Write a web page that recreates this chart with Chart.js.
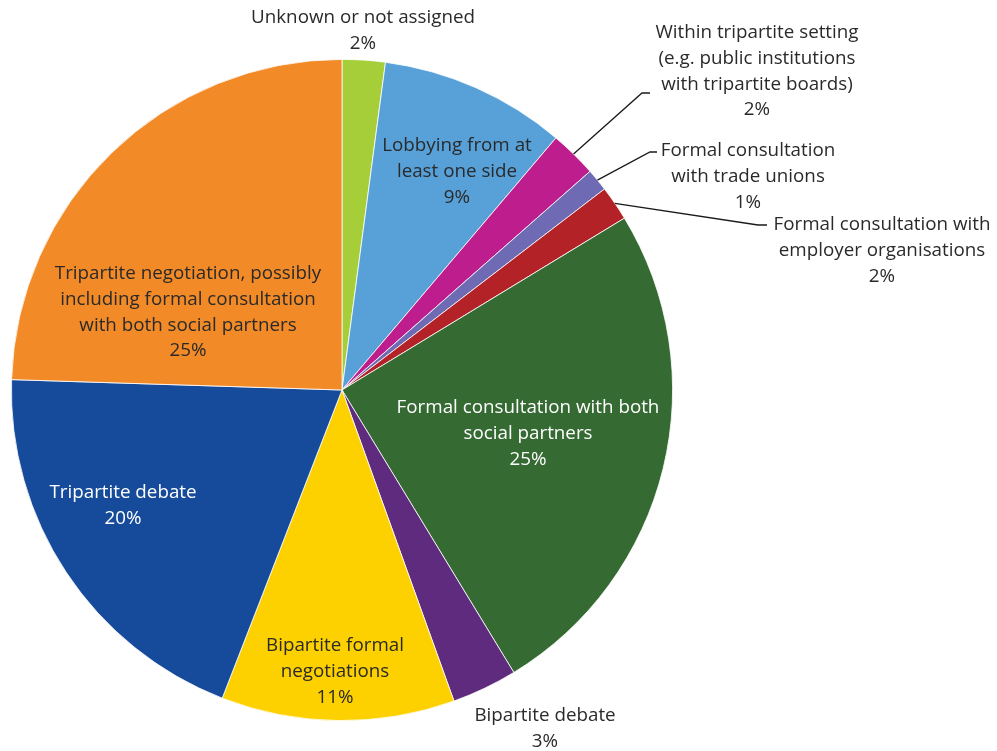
<!DOCTYPE html>
<html>
<head>
<meta charset="utf-8">
<script src="https://cdn.jsdelivr.net/npm/chart.js@4/dist/chart.umd.min.js"></script>
<style>
  html, body { margin: 0; padding: 0; background: #ffffff; }
  #wrap { width: 997px; height: 751px; }
</style>
</head>
<body>
<div id="wrap"><canvas id="pie" width="997" height="751"></canvas></div>
<script>
// Share of cases by type of social partner involvement (%)
const categories = [
  "Unknown or not assigned",
  "Lobbying from at least one side",
  "Within tripartite setting (e.g. public institutions with tripartite boards)",
  "Formal consultation with trade unions",
  "Formal consultation with employer organisations",
  "Formal consultation with both social partners",
  "Bipartite debate",
  "Bipartite formal negotiations",
  "Tripartite debate",
  "Tripartite negotiation, possibly including formal consultation with both social partners"
];
const shares = [2.1, 9.1, 2.3, 1.1, 1.7, 25.0, 3.2, 11.4, 19.6, 24.5];

// Line breaks used when the category names are printed on the chart
const labelLines = [
  ["Unknown or not assigned"],
  ["Lobbying from at", "least one side"],
  ["Within tripartite setting", "(e.g. public institutions", "with tripartite boards)"],
  ["Formal consultation", "with trade unions"],
  ["Formal consultation with", "employer organisations"],
  ["Formal consultation with both", "social partners"],
  ["Bipartite debate"],
  ["Bipartite formal", "negotiations"],
  ["Tripartite debate"],
  ["Tripartite negotiation, possibly", "including formal consultation", "with both social partners"]
];

const colors = ["#A6CE39", "#57A0D8", "#BE1E8D", "#6E6BB4", "#B22226",
                "#356A32", "#5E2B7E", "#FDD000", "#164B9C", "#F28A27"];

// Text block placement relative to the pie centre (first line's middle),
// optional leader line elbow for labels outside the pie, and text colour.
const placement = [
  { dx: 21,  dy: -372 },
  { dx: 115, dy: -244 },
  { dx: 415, dy: -357, elbow: { x: 300, y: -297, end: 308 } },
  { dx: 406, dy: -239, elbow: { x: 308, y: -238, end: 315 } },
  { dx: 540, dy: -165, elbow: { x: 416, y: -165, end: 425 } },
  { dx: 186, dy: 18, light: true },
  { dx: 203, dy: 326 },
  { dx: -7,  dy: 256 },
  { dx: -219, dy: 103, light: true },
  { dx: -154, dy: -116 }
];

const LINE_H = 25.6;
const FONT = '18.8px "Open Sans", "Noto Sans", sans-serif';
const TEXT_COLOR = "#2a2a2a";

const labelPlugin = {
  id: "sliceLabels",
  afterDatasetsDraw(chart) {
    const ctx = chart.ctx;
    const meta = chart.getDatasetMeta(0);
    ctx.save();
    ctx.font = FONT;
    ctx.textAlign = "center";
    ctx.textBaseline = "middle";
    meta.data.forEach((arc, i) => {
      const p = placement[i];
      const cx = arc.x, cy = arc.y;
      const lines = labelLines[i].concat([Math.round(shares[i]) + "%"]);
      ctx.fillStyle = p.light ? "#ffffff" : TEXT_COLOR;
      lines.forEach((t, k) => {
        ctx.fillText(t, cx + p.dx, cy + p.dy + k * LINE_H);
      });
      if (p.elbow) {
        const mid = (arc.startAngle + arc.endAngle) / 2;
        const r = arc.outerRadius;
        ctx.beginPath();
        ctx.strokeStyle = "#1a1a1a";
        ctx.lineWidth = 1.3;
        ctx.moveTo(cx + Math.cos(mid) * r, cy + Math.sin(mid) * r);
        ctx.lineTo(cx + p.elbow.x, cy + p.elbow.y);
        ctx.lineTo(cx + p.elbow.end, cy + p.elbow.y);
        ctx.stroke();
      }
    });
    ctx.restore();
  }
};

new Chart(document.getElementById("pie"), {
  type: "pie",
  data: {
    labels: categories,
    datasets: [{
      data: shares,
      backgroundColor: colors,
      borderColor: "#ffffff",
      borderWidth: 0.8
    }]
  },
  options: {
    responsive: false,
    animation: false,
    rotation: 0,
    layout: { padding: { left: 11, top: 59, right: 324, bottom: 30 } },
    plugins: {
      legend: { display: false },
      tooltip: { enabled: false }
    }
  },
  plugins: [labelPlugin]
});
</script>
</body>
</html>
